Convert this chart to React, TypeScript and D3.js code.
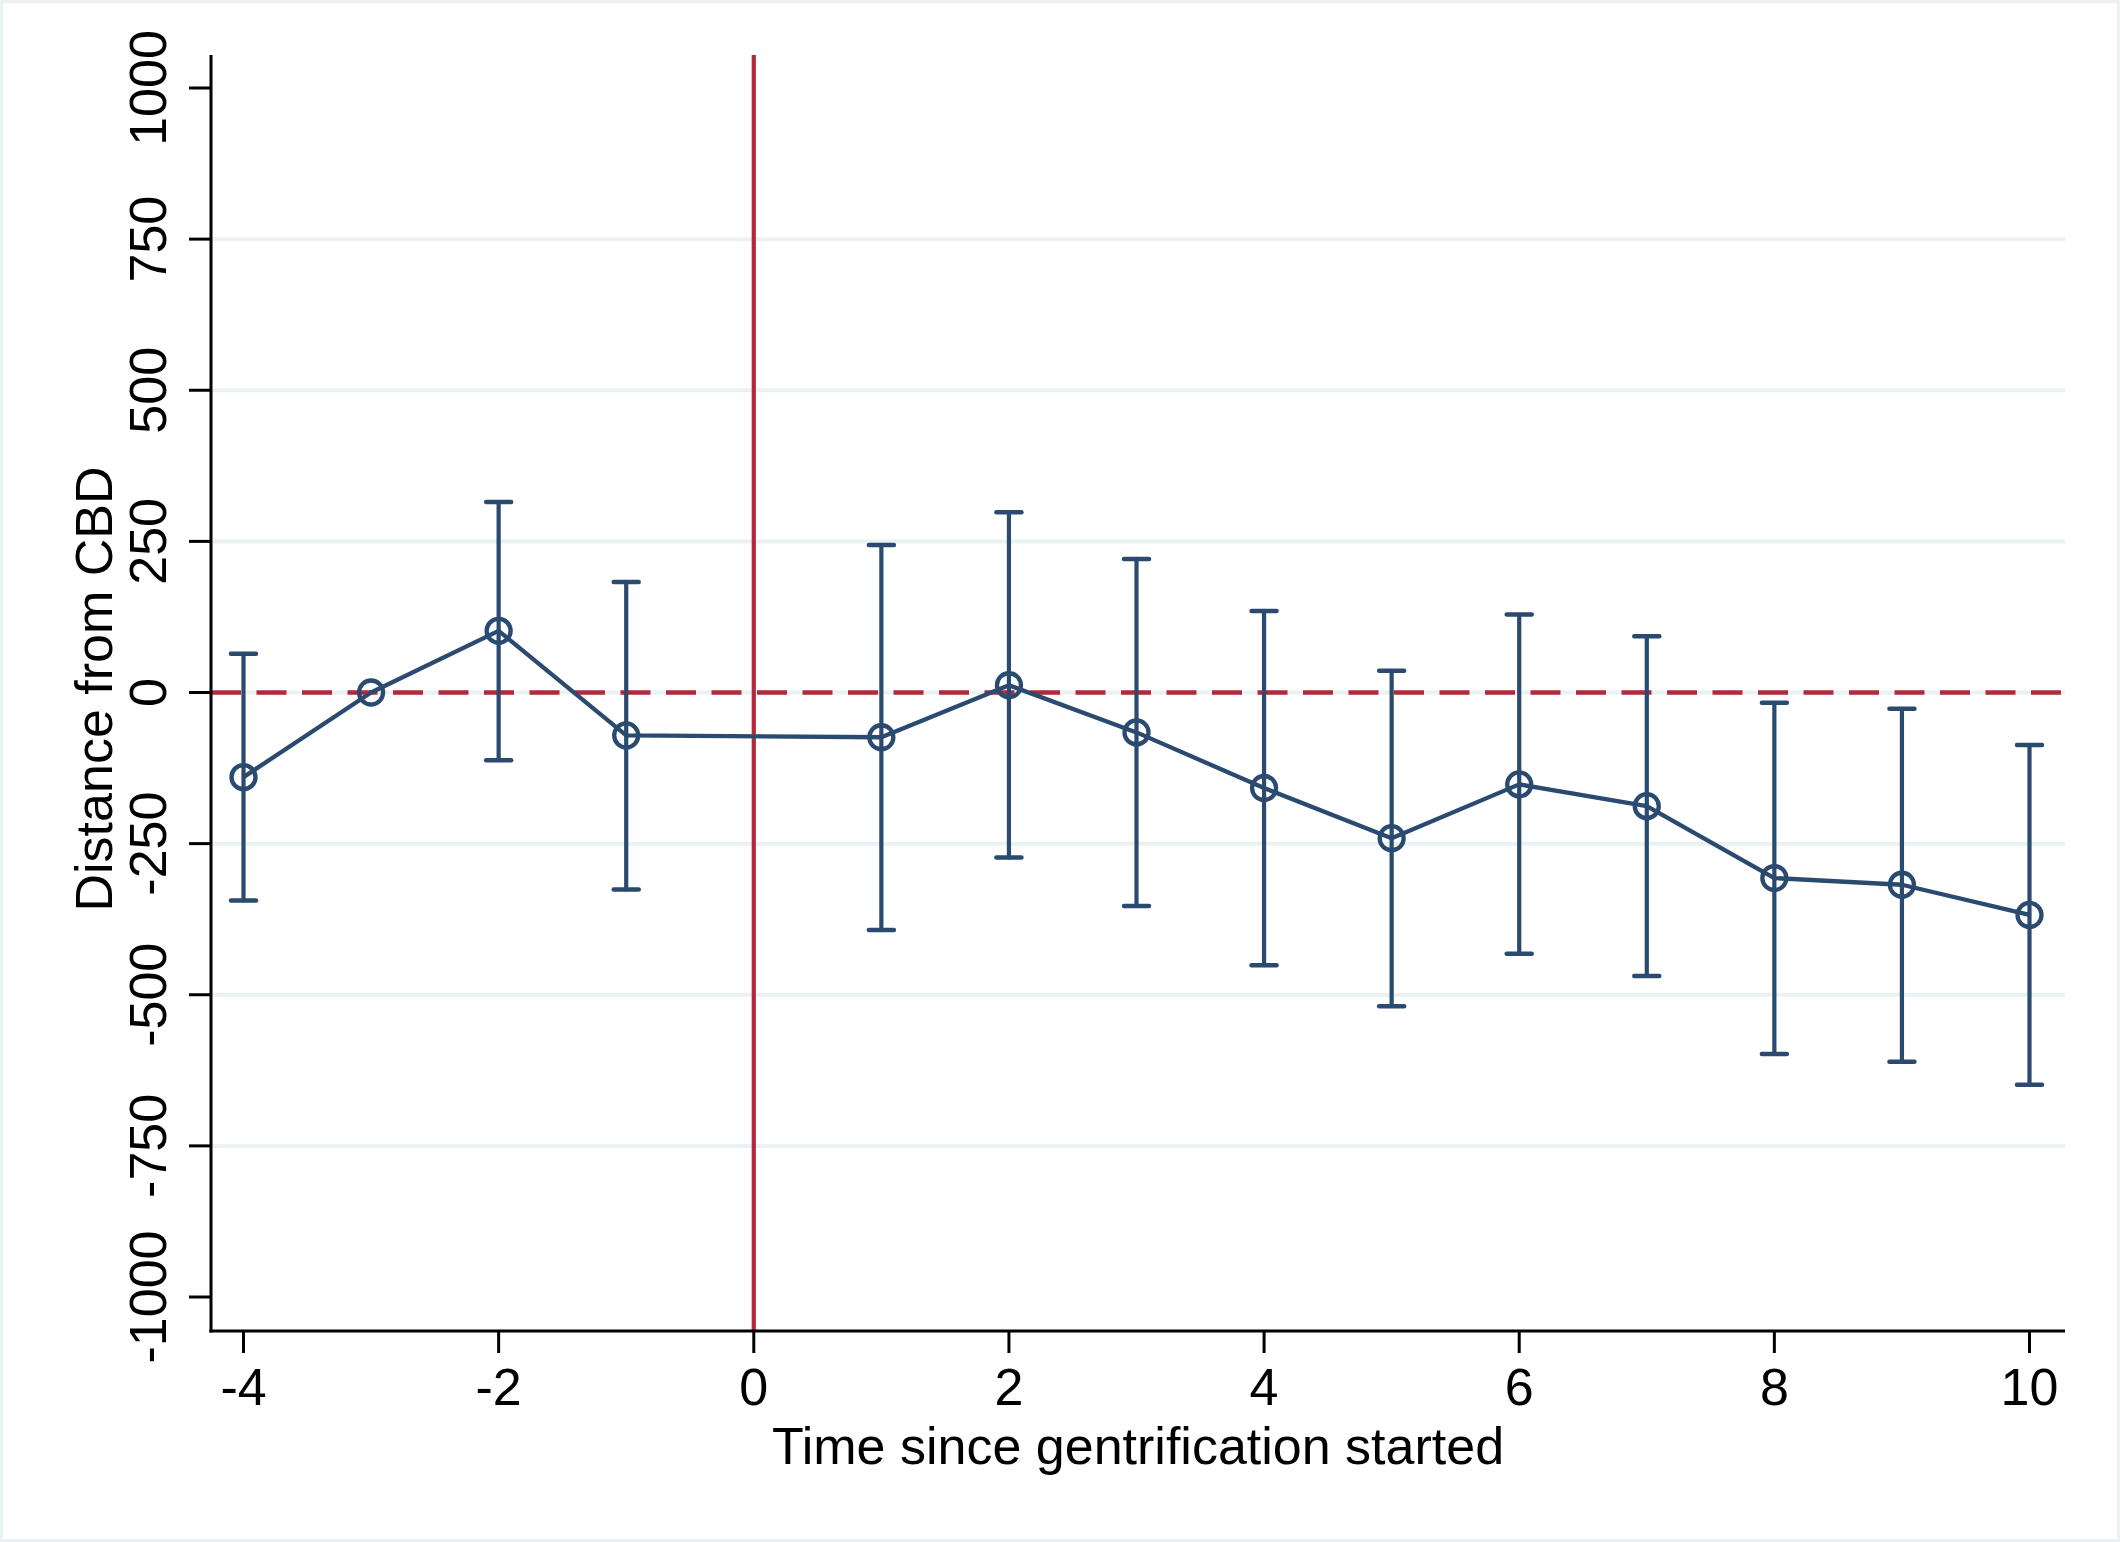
import * as d3 from 'd3';

const W = 2120;
const H = 1542;

// event-study estimates
const periods = [-4, -3, -2, -1, 1, 2, 3, 4, 5, 6, 7, 8, 9, 10];
const coef = [-140, 0, 102, -71, -74, 12, -66, -158, -241, -152, -188, -307, -318, -368];
const ciLow: (number | null)[] = [-344, null, -112, -326, -393, -273, -353, -451, -519, -432, -469, -598, -611, -649];
const ciHigh: (number | null)[] = [64, null, 315, 183, 244, 298, 221, 135, 36, 129, 93, -17, -27, -87];

const xTicks = [-4, -2, 0, 2, 4, 6, 8, 10];
const yTicks = [-1000, -750, -500, -250, 0, 250, 500, 750, 1000];
const gridTicks = [-750, -500, -250, 0, 250, 500, 750];

const NAVY = '#2a4a6f';
const RED = '#b4283c';
const GRID = '#eaf2f3';
const FONT = '"Liberation Sans", Arial, Helvetica, sans-serif';

const plot = { left: 211, right: 2065, top: 55, bottom: 1331 };

const x = d3.scaleLinear().domain([-4, 10]).range([243.5, 2029.5]);
const y = d3.scaleLinear().domain([-1000, 1000]).range([1297, 88]);

export default function App() {
  const pts = periods.map((p, i) => ({ p, b: coef[i], lo: ciLow[i], hi: ciHigh[i] }));
  const line = d3
    .line<{ p: number; b: number }>()
    .x((d) => x(d.p))
    .y((d) => y(d.b));

  return (
    <svg
      width={W}
      height={H}
      style={{ position: 'absolute', left: 0, top: 0, background: '#fff' }}
      fontFamily={FONT}
    >
      <rect x={1.5} y={1.5} width={W - 3} height={H - 3} fill="#fff" stroke={GRID} strokeWidth={3} />

      {gridTicks.map((t) => (
        <line key={t} x1={plot.left} x2={plot.right} y1={y(t)} y2={y(t)} stroke={GRID} strokeWidth={4} />
      ))}

      {/* reference lines */}
      <line
        x1={plot.left}
        x2={plot.right}
        y1={y(0)}
        y2={y(0)}
        stroke={RED}
        strokeWidth={4.5}
        strokeDasharray="30 15.5"
      />
      <line x1={x(0)} x2={x(0)} y1={plot.top} y2={plot.bottom} stroke={RED} strokeWidth={4.2} />

      {/* confidence intervals */}
      <g stroke={NAVY} strokeWidth={4.2} strokeLinecap="round">
        {pts
          .filter((d) => d.lo !== null && d.hi !== null)
          .map((d) => (
            <g key={d.p}>
              <line x1={x(d.p)} x2={x(d.p)} y1={y(d.hi as number)} y2={y(d.lo as number)} />
              <line x1={x(d.p) - 12.5} x2={x(d.p) + 12.5} y1={y(d.hi as number)} y2={y(d.hi as number)} strokeWidth={4.5} />
              <line x1={x(d.p) - 12.5} x2={x(d.p) + 12.5} y1={y(d.lo as number)} y2={y(d.lo as number)} strokeWidth={4.5} />
            </g>
          ))}
      </g>

      <path d={line(pts) ?? ''} fill="none" stroke={NAVY} strokeWidth={4.3} strokeLinejoin="round" />

      {pts.map((d) => (
        <circle key={d.p} cx={x(d.p)} cy={y(d.b)} r={12} fill="none" stroke={NAVY} strokeWidth={4.3} />
      ))}

      {/* y axis */}
      <line x1={plot.left} x2={plot.left} y1={plot.top} y2={plot.bottom + 1.5} stroke="#000" strokeWidth={3} />
      {yTicks.map((t) => (
        <g key={t}>
          <line x1={plot.left - 22} x2={plot.left} y1={y(t)} y2={y(t)} stroke="#000" strokeWidth={3} />
          <text
            transform={`translate(166,${y(t)}) rotate(-90)`}
            textAnchor="middle"
            fontSize={52}
            fill="#000"
          >
            {t}
          </text>
        </g>
      ))}

      {/* x axis */}
      <line x1={plot.left - 1.5} x2={plot.right} y1={plot.bottom} y2={plot.bottom} stroke="#000" strokeWidth={3} />
      {xTicks.map((t) => (
        <g key={t}>
          <line x1={x(t)} x2={x(t)} y1={plot.bottom} y2={plot.bottom + 22} stroke="#000" strokeWidth={3} />
          <text x={x(t)} y={1405} textAnchor="middle" fontSize={52} fill="#000">
            {t}
          </text>
        </g>
      ))}

      <text
        x={(plot.left + plot.right) / 2}
        y={1464}
        textAnchor="middle"
        fontSize={52}
        fill="#000"
      >
        Time since gentrification started
      </text>
      <text
        transform={`translate(112,${(plot.top + plot.bottom) / 2 - 4}) rotate(-90)`}
        textAnchor="middle"
        fontSize={52}
        fill="#000"
      >
        Distance from CBD
      </text>
    </svg>
  );
}
